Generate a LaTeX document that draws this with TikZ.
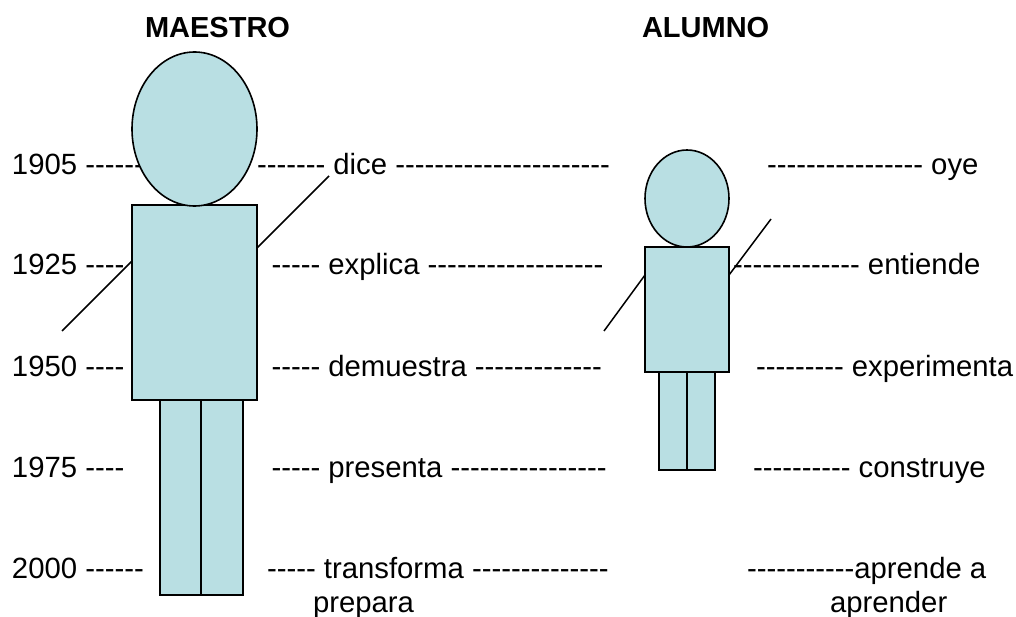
\documentclass[tikz,border=0pt]{standalone}
\usepackage{fontspec}
\newfontfamily\plainsans{Liberation Sans}
\definecolor{fillb}{HTML}{B9DFE3}
\begin{document}
\begin{tikzpicture}[x=1pt,y=-1pt,
 shp/.style={draw=black,fill=fillb,line width=1.6pt},
 ln/.style={draw=black,line width=1.5pt},
 lab/.style={font=\plainsans\fontsize{29.3}{32}\selectfont,anchor=base west,inner sep=0pt,outer sep=0pt},
 ttl/.style={font=\plainsans\fontsize{29}{32}\selectfont\bfseries,anchor=base west,inner sep=0pt,outer sep=0pt}]
\useasboundingbox (0,0) rectangle (1016,617);
\fill[white] (0,0) rectangle (1016,617);
\node[ttl] (t1) at (145,37.5) {MAESTRO};
\node[ttl] (t2) at (642,37.5) {ALUMNO};
% labels drawn first, shapes on top
\node[lab] (a1) at (12,174.5) {1905 ------};
\node[lab] (a2) at (12,275) {1925 ----};
\node[lab] (a3) at (12,376) {1950 ----};
\node[lab] (a4) at (12,477) {1975 ----};
\node[lab] (a5) at (12,578.5) {2000 ------};
\node[lab] (b1) at (257,174.5) {------- dice ----------------------};
\node[lab] (b2) at (271.5,275) {----- explica ------------------};
\node[lab] (b3) at (271.5,376) {----- demuestra -------------};
\node[lab] (b4) at (271.5,477) {----- presenta ----------------};
\node[lab] (b5) at (267,578.5) {----- transforma --------------};
\node[lab] (b6) at (313,612) {prepara};
\node[lab] (c1) at (767,174.5) {---------------- oye};
\node[lab] (c2) at (733,275) {------------- entiende};
\node[lab] (c3) at (756,376) {--------- experimenta};
\node[lab] (c4) at (753,477) {---------- construye};
\node[lab] (c5) at (747,578) {-----------aprende a};
\node[lab] (c6) at (830,612) {aprender};
% maestro
\draw[shp] (160,400) rectangle (201,595);
\draw[shp] (201,400) rectangle (243,595);
\draw[ln] (62,331) -- (133,260);
\draw[ln] (257,248) -- (329,176);
\draw[shp] (132,205) rectangle (257,400);
\draw[shp] (194.5,129) ellipse (62.5 and 77);
% alumno
\draw[shp] (659,372) rectangle (687,470);
\draw[shp] (687,372) rectangle (715,470);
\draw[ln] (604,331) -- (645,275);
\draw[ln] (729,275) -- (771,219);
\draw[shp] (645,247) rectangle (729,372);
\draw[shp] (687,198.5) ellipse (42 and 48.5);
\end{tikzpicture}
\end{document}
